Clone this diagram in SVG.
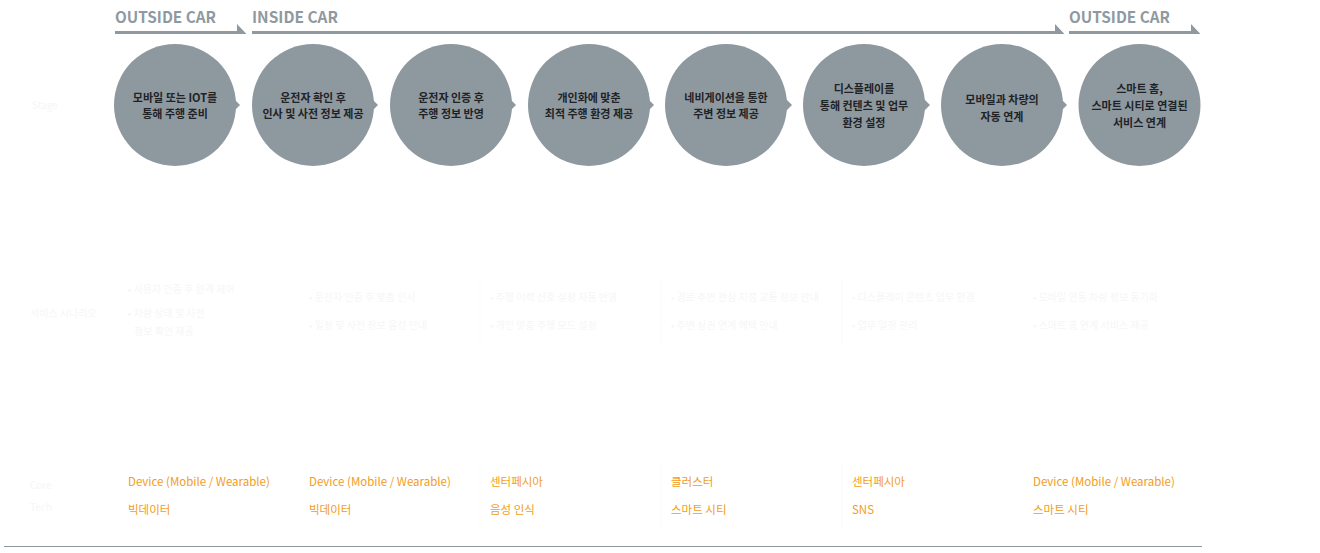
<svg xmlns="http://www.w3.org/2000/svg" width="1320" height="553" viewBox="0 0 1320 553">
<style>
.hd{font-family:"Noto Sans CJK KR","Noto Sans",sans-serif;font-weight:bold;font-size:16px;fill:#8f99a1}
.bar{fill:#8f99a1}
.cir{fill:#8e989f}
.ct{font-family:"Noto Sans CJK KR",sans-serif;font-weight:bold;font-size:11px;fill:#1f2326;text-anchor:middle}
.fa{font-family:"Noto Sans CJK KR",sans-serif;font-size:10px;fill:#f6f6f6}
.or{font-family:"Noto Sans CJK KR",sans-serif;font-size:11.5px;fill:#f39c1b}
.sep{stroke:#fbfbfb;stroke-width:1}
</style>
<rect width="1320" height="553" fill="#ffffff"/>
<g id="header">
<text class="hd" x="115" y="22.5" textLength="101" lengthAdjust="spacingAndGlyphs">OUTSIDE CAR</text>
<polygon class="bar" points="115,31 237,31 237,24 246,33.5 246,34 115,34"/>
<text class="hd" x="252" y="22.5" textLength="86" lengthAdjust="spacingAndGlyphs">INSIDE CAR</text>
<polygon class="bar" points="252,31 1055,31 1055,24 1064,33.5 1064,34 252,34"/>
<text class="hd" x="1069" y="22.5" textLength="101" lengthAdjust="spacingAndGlyphs">OUTSIDE CAR</text>
<polygon class="bar" points="1069,31 1191,31 1191,24 1200,33.5 1200,34 1069,34"/>
</g>
<g id="labels">
<text class="fa" x="32" y="109">Stage</text>
<text class="fa" x="30" y="317">서비스 시나리오</text>
<text class="fa" x="30" y="489">Core</text>
<text class="fa" x="30" y="511">Tech</text>
</g>
<g id="connectors">
<polygon class="cir" points="233,98 240,105 233,112"/>
<polygon class="cir" points="371,98 378,105 371,112"/>
<polygon class="cir" points="509,98 516,105 509,112"/>
<polygon class="cir" points="647,98 654,105 647,112"/>
<polygon class="cir" points="785,98 792,105 785,112"/>
<polygon class="cir" points="923,98 930,105 923,112"/>
<polygon class="cir" points="1060,98 1067,105 1060,112"/>
</g>
<g id="node1"><circle class="cir" cx="175" cy="105" r="61"/><text class="ct" x="175" y="102">모바일 또는 IOT를</text><text class="ct" x="175" y="118">통해 주행 준비</text></g>
<g id="node2"><circle class="cir" cx="313" cy="105" r="61"/><text class="ct" x="313" y="102">운전자 확인 후</text><text class="ct" x="313" y="118">인사 및 사전 정보 제공</text></g>
<g id="node3"><circle class="cir" cx="451" cy="105" r="61"/><text class="ct" x="451" y="102">운전자 인증 후</text><text class="ct" x="451" y="118">주행 정보 반영</text></g>
<g id="node4"><circle class="cir" cx="589" cy="105" r="61"/><text class="ct" x="589" y="102">개인화에 맞춘</text><text class="ct" x="589" y="118">최적 주행 환경 제공</text></g>
<g id="node5"><circle class="cir" cx="726" cy="105" r="61"/><text class="ct" x="726" y="102">네비게이션을 통한</text><text class="ct" x="726" y="118">주변 정보 제공</text></g>
<g id="node6"><circle class="cir" cx="864" cy="105" r="61"/><text class="ct" x="864" y="93">디스플레이를</text><text class="ct" x="864" y="110">통해 컨텐츠 및 업무</text><text class="ct" x="864" y="127">환경 설정</text></g>
<g id="node7"><circle class="cir" cx="1002" cy="105" r="61"/><text class="ct" x="1002" y="104">모바일과 차량의</text><text class="ct" x="1002" y="121">자동 연계</text></g>
<g id="node8"><circle class="cir" cx="1139.5" cy="105" r="61"/><text class="ct" x="1139.5" y="93">스마트 홈,</text><text class="ct" x="1139.5" y="110">스마트 시티로 연결된</text><text class="ct" x="1139.5" y="127">서비스 연계</text></g>
<g id="separators">
<line class="sep" x1="480" y1="278" x2="480" y2="345"/>
<line class="sep" x1="661" y1="278" x2="661" y2="345"/>
<line class="sep" x1="842" y1="278" x2="842" y2="345"/>
<line class="sep" x1="480" y1="462" x2="480" y2="530"/>
<line class="sep" x1="661" y1="462" x2="661" y2="530"/>
<line class="sep" x1="842" y1="462" x2="842" y2="530"/>
</g>
<g id="scenarios">
<text class="fa" x="128" y="293">• 사용자 인증 후 원격 제어</text>
<text class="fa" x="128" y="317">• 차량 상태 및 사전</text>
<text class="fa" x="134" y="335">정보 확인 제공</text>
<text class="fa" x="309" y="301">• 운전자 인증 후 맞춤 인사</text>
<text class="fa" x="309" y="329">• 일정 및 사전 정보 음성 안내</text>
<text class="fa" x="490" y="301">• 주행 이력 선호 설정 자동 반영</text>
<text class="fa" x="490" y="329">• 개인 맞춤 주행 모드 설정</text>
<text class="fa" x="671" y="301">• 경로 주변 관심 지점 교통 정보 안내</text>
<text class="fa" x="671" y="329">• 주변 상권 연계 혜택 안내</text>
<text class="fa" x="852" y="301">• 디스플레이 콘텐츠 업무 환경</text>
<text class="fa" x="852" y="329">• 업무 일정 관리</text>
<text class="fa" x="1033" y="301">• 모바일 연동 차량 정보 동기화</text>
<text class="fa" x="1033" y="329">• 스마트 홈 연계 서비스 제공</text>
</g>
<g id="tech">
<text class="or" x="128" y="486">Device (Mobile / Wearable)</text>
<text class="or" x="128" y="514">빅데이터</text>
<text class="or" x="309" y="486">Device (Mobile / Wearable)</text>
<text class="or" x="309" y="514">빅데이터</text>
<text class="or" x="490" y="486">센터페시아</text>
<text class="or" x="490" y="514">음성 인식</text>
<text class="or" x="671" y="486">클러스터</text>
<text class="or" x="671" y="514">스마트 시티</text>
<text class="or" x="852" y="486">센터페시아</text>
<text class="or" x="852" y="514">SNS</text>
<text class="or" x="1033" y="486">Device (Mobile / Wearable)</text>
<text class="or" x="1033" y="514">스마트 시티</text>
</g>
<line x1="4" y1="546.5" x2="1202" y2="546.5" stroke="#8e979f" stroke-width="1.2"/>
</svg>
